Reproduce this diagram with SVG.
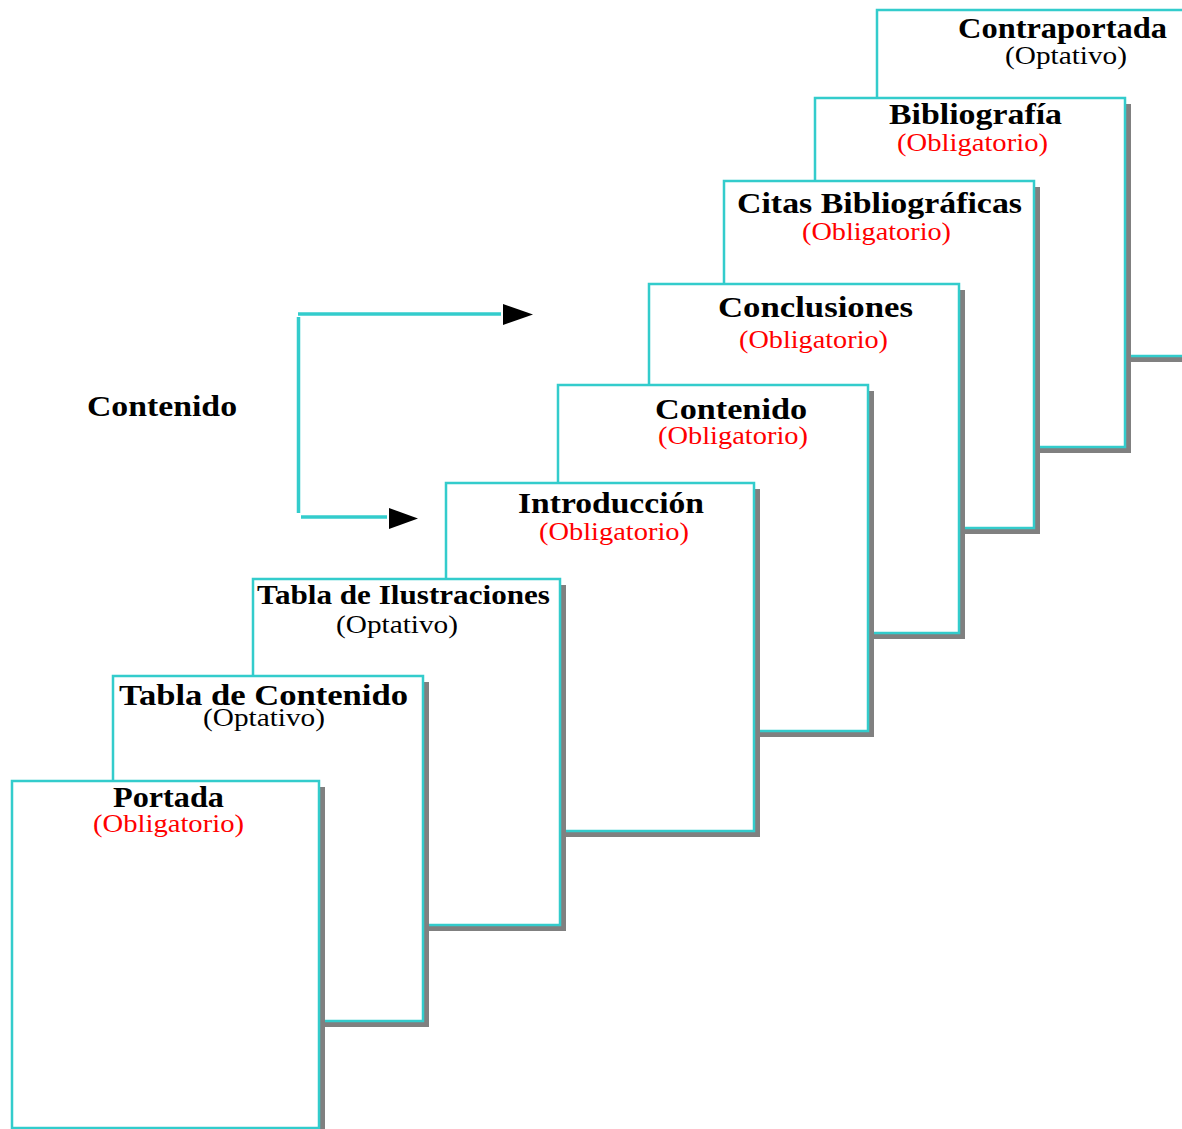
<svg xmlns="http://www.w3.org/2000/svg" width="1182" height="1129" viewBox="0 0 1182 1129">
<style>
.sh{fill:#808080;}
.pg{fill:#ffffff;stroke:#33CCCC;stroke-width:2.5;}
.t{font-family:"Liberation Serif","Times New Roman",serif;font-weight:bold;font-size:30px;fill:#000;}
.o{font-family:"Liberation Serif","Times New Roman",serif;font-size:26px;fill:#000;}
.r{fill:#ff0000;}
.ln{stroke:#33CCCC;stroke-width:3.5;fill:none;}
</style>
<rect width="1182" height="1129" fill="#ffffff"/>
<g id="contraportada">
<rect class="sh" x="883" y="16" width="313" height="346"/>
<rect class="pg" x="877" y="10" width="313" height="346"/>
<text class="t" x="958" y="38" textLength="209" lengthAdjust="spacingAndGlyphs">Contraportada</text>
<text class="o" x="1005" y="64" textLength="122" lengthAdjust="spacingAndGlyphs">(Optativo)</text>
</g>
<g id="bibliografia">
<rect class="sh" x="821" y="104" width="310" height="349"/>
<rect class="pg" x="815" y="98" width="310" height="349"/>
<text class="t" x="889" y="124" textLength="173" lengthAdjust="spacingAndGlyphs">Bibliografía</text>
<text class="o r" x="897" y="151" textLength="151" lengthAdjust="spacingAndGlyphs">(Obligatorio)</text>
</g>
<g id="citas">
<rect class="sh" x="730" y="187" width="310" height="347"/>
<rect class="pg" x="724" y="181" width="310" height="347"/>
<text class="t" x="737" y="213" textLength="285" lengthAdjust="spacingAndGlyphs">Citas Bibliográficas</text>
<text class="o r" x="802" y="240" textLength="149" lengthAdjust="spacingAndGlyphs">(Obligatorio)</text>
</g>
<g id="conclusiones">
<rect class="sh" x="655" y="290" width="310" height="349"/>
<rect class="pg" x="649" y="284" width="310" height="349"/>
<text class="t" x="718" y="317" textLength="195" lengthAdjust="spacingAndGlyphs">Conclusiones</text>
<text class="o r" x="739" y="348" textLength="149" lengthAdjust="spacingAndGlyphs">(Obligatorio)</text>
</g>
<g id="contenido">
<rect class="sh" x="564" y="391" width="310" height="346"/>
<rect class="pg" x="558" y="385" width="310" height="346"/>
<text class="t" x="655" y="419" textLength="152" lengthAdjust="spacingAndGlyphs">Contenido</text>
<text class="o r" x="658" y="444" textLength="150" lengthAdjust="spacingAndGlyphs">(Obligatorio)</text>
</g>
<g id="introduccion">
<rect class="sh" x="452" y="489" width="308" height="348"/>
<rect class="pg" x="446" y="483" width="308" height="348"/>
<text class="t" x="518" y="513" textLength="186" lengthAdjust="spacingAndGlyphs">Introducción</text>
<text class="o r" x="539" y="540" textLength="150" lengthAdjust="spacingAndGlyphs">(Obligatorio)</text>
</g>
<g id="tabla-ilustraciones">
<rect class="sh" x="259" y="585" width="307" height="346"/>
<rect class="pg" x="253" y="579" width="307" height="346"/>
<text class="t" x="257" y="604" style="font-size:27px" textLength="293" lengthAdjust="spacingAndGlyphs">Tabla de Ilustraciones</text>
<text class="o" x="336" y="633" textLength="122" lengthAdjust="spacingAndGlyphs">(Optativo)</text>
</g>
<g id="tabla-contenido">
<rect class="sh" x="119" y="682" width="310" height="345"/>
<rect class="pg" x="113" y="676" width="310" height="345"/>
<text class="t" x="119" y="705" textLength="289" lengthAdjust="spacingAndGlyphs">Tabla de Contenido</text>
<text class="o" x="203" y="726" textLength="122" lengthAdjust="spacingAndGlyphs">(Optativo)</text>
</g>
<g id="portada">
<rect class="sh" x="18" y="787" width="307" height="347"/>
<rect class="pg" x="12" y="781" width="307" height="347"/>
<text class="t" x="113" y="807" textLength="111" lengthAdjust="spacingAndGlyphs">Portada</text>
<text class="o r" x="93" y="832" textLength="151" lengthAdjust="spacingAndGlyphs">(Obligatorio)</text>
</g>
<g id="label-contenido">
<text class="t" x="87" y="416" textLength="150" lengthAdjust="spacingAndGlyphs">Contenido</text>
</g>
<g id="connectors">
<line class="ln" x1="298" y1="314" x2="501" y2="314"/>
<line class="ln" x1="298.5" y1="317" x2="298.5" y2="513"/>
<line class="ln" x1="301" y1="517" x2="387" y2="517"/>
<polygon points="503,304 533,314.5 503,325" fill="#000"/>
<polygon points="389,508 418,518.5 389,529" fill="#000"/>
</g>
</svg>
